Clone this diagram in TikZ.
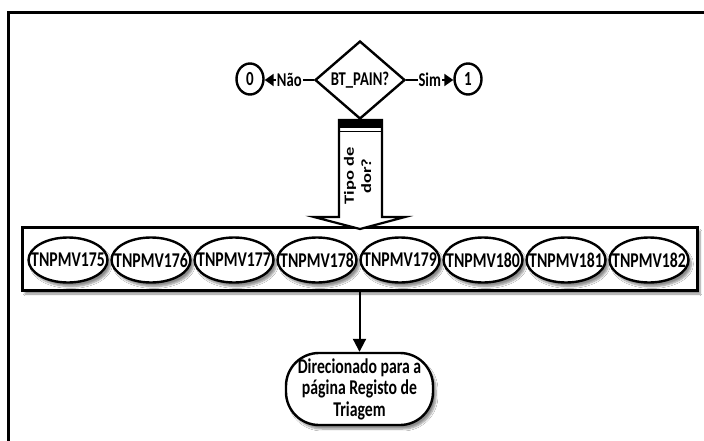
\documentclass[tikz,border=0pt]{standalone}
\usepackage{fontspec}
\usepackage{graphicx}
\setmainfont{Carlito}[FakeStretch=0.75]
\newfontfamily\rotfont{Carlito}
\usetikzlibrary{shapes.geometric,arrows.meta,shadows.blur}

\tikzset{
  outline/.style={draw=black, line width=2.4pt, fill=white},
  softshadow/.style={blur shadow={shadow xshift=3pt, shadow yshift=-4pt,
      shadow blur steps=6, shadow opacity=45}},
  dec/.style={outline, diamond, minimum width=90pt, minimum height=78pt,
      inner sep=0pt, font=\bfseries\fontsize{19.5}{22}\selectfont},
  endpt/.style={outline, ellipse, minimum width=27pt, minimum height=31pt,
      inner sep=0pt, font=\bfseries\fontsize{20}{22}\selectfont},
  grpbox/.style={outline, line width=3pt, rectangle, minimum width=675pt,
      minimum height=63pt, inner sep=0pt, softshadow},
  tag/.style={outline, ellipse, minimum width=79pt, minimum height=45pt,
      inner sep=0pt, font=\bfseries\fontsize{21}{23}\selectfont, softshadow},
  term/.style={outline, rectangle, rounded corners=33pt, minimum width=147pt,
      minimum height=72pt, align=center, inner sep=2pt,
      font=\bfseries\fontsize{21}{21.5}\selectfont, softshadow},
  conn/.style={draw=black, line width=2pt},
  lbl/.style={fill=white, inner sep=1pt, font=\bfseries\fontsize{19.5}{22}\selectfont},
  blockarrow/.style={draw=black, line width=2.2pt, fill=white, line join=miter},
}

\begin{document}
\begin{tikzpicture}[x=1pt, y=-1pt]
  \useasboundingbox (0,0) rectangle (704,441);
  \fill[white] (0,0) rectangle (704,441);

  % page frame (open to the right and below)
  \draw[line width=3pt] (8.5,441) -- (8.5,13) -- (704,13);

  % decision and its two outcomes
  \node[dec] (q) at (360,80) {BT\_PAIN?};
  \node[endpt] (n0) at (250,79) {0};
  \node[endpt] (n1) at (468,79) {1};
  \draw[conn, -{Triangle[width=12pt,length=9pt]}] (q.west) -- node[lbl] (lno) {Não} (q.west -| n0.east);
  \draw[conn, -{Triangle[width=12pt,length=9pt]}] (q.east) -- node[lbl] (lsim) {Sim} (q.east -| n1.west);

  % group of pain types
  \node[grpbox] (grp) at (359.5,258.5) {};
  \foreach \i in {0,...,7} {
    \pgfmathtruncatemacro{\code}{175+\i}
    \node[tag] (t\i) at (68+83*\i,260) {\makebox[0pt]{TNPMV\code}};
  }

  % block arrow from the decision down to the group
  \draw[blockarrow] (339,120) -- (339,217) -- (314,217) -- (360,229)
                    -- (405,217) -- (382,217) -- (382,120) -- cycle;
  \fill[black] (339,120) rectangle (382,128);
  \draw[line width=1.2pt] (339,131.5) -- (382,131.5);
  \node[rotate=90, inner sep=0pt, font=\rotfont\bfseries\fontsize{18.5}{23}\selectfont]
    (qt) at (359,176) {\scalebox{1}[0.76]{\begin{tabular}{@{}c@{}}Tipo de\\dor?\end{tabular}}};

  % destination
  \node[term] (dest) at (359.5,389) {Direcionado para a\\página Registo de\\Triagem};
  \draw[conn, -{Triangle[width=13pt,length=13pt]}] (grp.south) -- (dest.north);
\end{tikzpicture}
\end{document}
